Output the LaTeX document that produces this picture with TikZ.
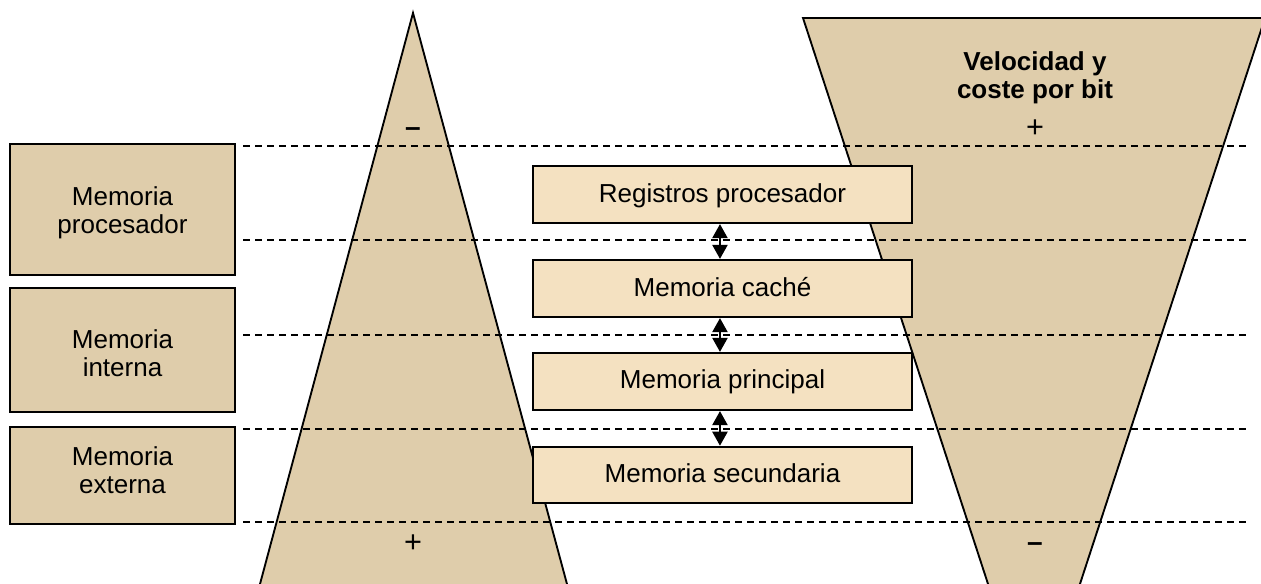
\documentclass[tikz,border=0pt]{standalone}
\usepackage{fontspec}
\setmainfont{Liberation Sans}
\usetikzlibrary{arrows.meta}
\definecolor{tan1}{HTML}{DFCDAB}
\definecolor{tan2}{HTML}{F4E1C1}
\newcommand{\lifted}[2]{\raisebox{#1}[\height][\depth]{\begin{tabular}{@{}c@{}}#2\end{tabular}}}
\tikzset{
 x=0.75pt,y=-0.75pt,
 cone/.style={draw=black,fill=tan1,line width=1.4pt},
 sidebox/.style={draw=black,fill=tan1,line width=1.5pt,inner sep=0pt,align=center,font=\fontsize{19.5}{21}\selectfont},
 levelbox/.style={draw=black,fill=tan2,line width=1.5pt,inner sep=0pt,align=center,font=\fontsize{19.5}{21}\selectfont},
 guide/.style={black,line width=1.1pt,dash pattern=on 5.6pt off 3.4pt},
 link/.style={black,line width=1pt,{Triangle[length=10.5pt,width=11.5pt]}-{Triangle[length=10.5pt,width=11.5pt]}},
 sign/.style={font=\fontsize{23}{25}\selectfont,inner sep=0pt},
 dashsign/.style={font=\bfseries\fontsize{21}{23}\selectfont,inner sep=0pt},
 title/.style={font=\bfseries\fontsize{19.5}{21}\selectfont,align=center,inner sep=0pt},
}
\begin{document}
\begin{tikzpicture}
\useasboundingbox (0,0) rectangle (1261,584);
\begin{scope}
\clip (0,0) rectangle (1261,584);
\draw[cone] (413,13) -- (258.4,590) -- (568.6,590) -- cycle;
\draw[cone] (803,18) -- (1265,18) -- (1078,590) -- (990,590) -- cycle;
\end{scope}
\node[sidebox,minimum width=169pt,minimum height=98pt] (mp) at (122.5,209.5) {\lifted{-3pt}{Memoria\\procesador}};
\node[sidebox,minimum width=169pt,minimum height=92.5pt] (mi) at (122.5,350) {\lifted{-5.3pt}{Memoria\\interna}};
\node[sidebox,minimum width=169pt,minimum height=72.5pt] (me) at (122.5,475.5) {\lifted{1.5pt}{Memoria\\externa}};
\foreach \n/\y in {a/146,b/240,c/335,d/429,e/522}{
 \coordinate (\n1) at (243,\y);
 \coordinate (\n2) at (1246,\y);
 \draw[guide] (\n1) -- (\n2);
}
\node[levelbox,minimum width=284pt,minimum height=43pt] (r1) at (722.5,194.5) {\lifted{-1.5pt}{Registros procesador}};
\node[levelbox,minimum width=284pt,minimum height=43pt] (r2) at (722.5,288.5) {\lifted{-2pt}{Memoria caché}};
\node[levelbox,minimum width=284pt,minimum height=43pt] (r3) at (722.5,381.5) {\lifted{-0.75pt}{Memoria principal}};
\node[levelbox,minimum width=284pt,minimum height=42.5pt] (r4) at (722.5,475) {\lifted{-1.25pt}{Memoria secundaria}};
\draw[link] ([xshift=-1.9pt]r1.south) -- ([xshift=-1.9pt]r2.north);
\draw[link] ([xshift=-1.9pt]r2.south) -- ([xshift=-1.9pt]r3.north);
\draw[link] ([xshift=-1.9pt]r3.south) -- ([xshift=-1.9pt]r4.north);
\node[dashsign] (s1) at (413,132) {–};
\node[sign] (s2) at (413,544) {+};
\node[sign] (s3) at (1035,129) {+};
\node[dashsign] (s4) at (1035,547) {–};
\node[title] (t) at (1035,77.5) {Velocidad y\\coste por bit};
\end{tikzpicture}
\end{document}
